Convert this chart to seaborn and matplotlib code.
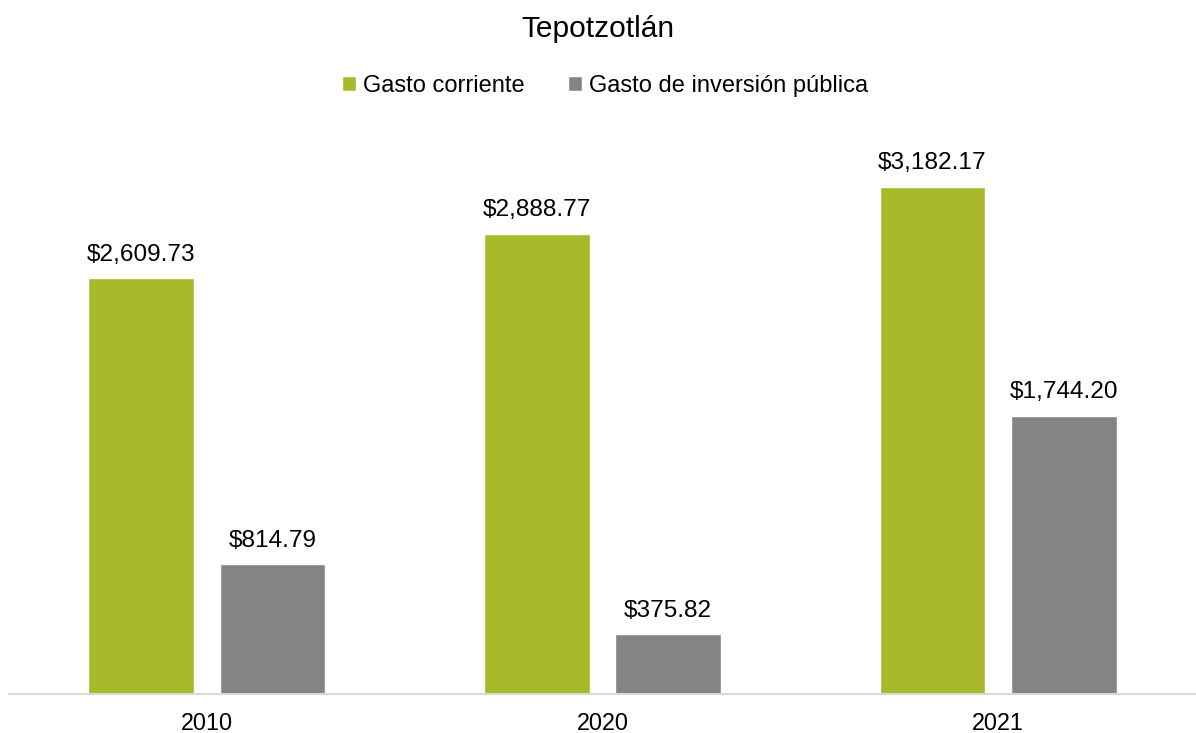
import matplotlib
matplotlib.use("Agg")
import matplotlib.pyplot as plt
import seaborn as sns
import pandas as pd

# Data
years = ["2010", "2020", "2021"]
gasto_corriente = [2609.73, 2888.77, 3182.17]
gasto_inversion = [814.79, 375.82, 1744.20]
series_names = ["Gasto corriente", "Gasto de inversión pública"]
title = "Tepotzotlán"

colors = ["#A8B92A", "#848484"]

df = pd.DataFrame({
    "year": years * 2,
    "value": gasto_corriente + gasto_inversion,
    "serie": [series_names[0]] * len(years) + [series_names[1]] * len(years),
})

sns.set_theme(style="white")
plt.rcParams["font.family"] = ["Liberation Sans", "DejaVu Sans"]
plt.rcParams["text.color"] = "#000000"

W, H = 1196, 733
fig = plt.figure(figsize=(W / 100, H / 100), dpi=100)
ax_left, ax_right, ax_bottom, ax_top = 9, 1196, 694, 168
ax = fig.add_axes([ax_left / W, (H - ax_bottom) / H, (ax_right - ax_left) / W, (ax_bottom - ax_top) / H])

sns.barplot(data=df, x="year", y="value", hue="serie", hue_order=series_names,
            palette=colors, width=0.664, gap=0.195, ax=ax, saturation=1, legend=True)

ax.set_ylim(0, 3300)
ax.set_xlim(-0.5, 2.5)
for c in ax.containers:
    ax.bar_label(c, labels=[f"${v:,.2f}" for v in c.datavalues], padding=9, fontsize=17.6, color="#000000")

for s in ["top", "right", "left"]:
    ax.spines[s].set_visible(False)
ax.spines["bottom"].set_color("#d9d9d9")
ax.spines["bottom"].set_linewidth(1.5)
ax.set_yticks([])
ax.set_xlabel("")
ax.set_ylabel("")
ax.tick_params(axis="x", length=0, pad=13, labelsize=16.8, labelcolor="#000000")

handles, labels = ax.get_legend_handles_labels()
ax.get_legend().remove()
leg = fig.legend(handles, labels, loc="center", bbox_to_anchor=(0.5 + 7 / W, 1 - 86 / H), ncol=2, frameon=False,
                 fontsize=17, handlelength=0.6, handleheight=0.6, handletextpad=0.3, columnspacing=1.8)
for t in leg.get_texts():
    t.set_color("#000000")

fig.text(0.5, 1 - 29 / H, title, ha="center", va="center", fontsize=21.5, color="#000000")

fig.savefig("out.png", dpi=100)
